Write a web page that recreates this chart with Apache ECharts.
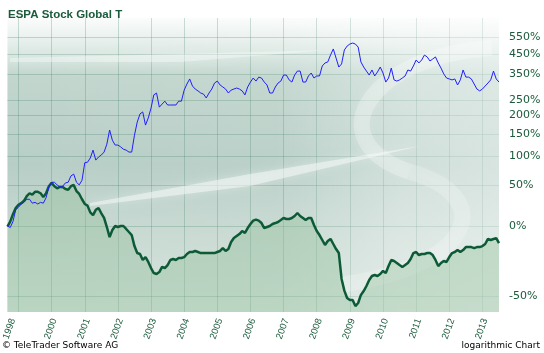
<!DOCTYPE html>
<html>
<head>
<meta charset="utf-8">
<script src="https://cdn.jsdelivr.net/npm/echarts@6/dist/echarts.min.js"></script>
<style>
  html, body { margin: 0; padding: 0; background: #fff; }
  #chart { width: 544px; height: 353px; }
</style>
</head>
<body>
<div id="chart"></div>
<script>
// monthly points, Sep 1998 .. Jul 2013
const firstMonth = [1998, 9]
const lastMonth = [2013, 7]
const months = []
for (let y = firstMonth[0], m = firstMonth[1]; y * 12 + m <= lastMonth[0] * 12 + lastMonth[1]; m++) {
  if (m > 12) { m = 1; y++ }
  months.push(y + "-" + String(m).padStart(2, "0"))
}

// blue line, change in % since start
const fundPct = [
  1, -1, 5, 18, 21, 25, 27, 31, 31, 26, 27, 25, 27, 26, 33, 48, 55, 55, 51, 48,
  49, 54, 55, 65, 68, 55, 51, 58, 88, 89, 97, 113, 93, 99, 103, 109, 126, 160, 135, 124,
  124, 120, 115, 113, 109, 109, 147, 181, 205, 211, 173, 193, 223, 268, 275, 226, 236, 246, 233, 233,
  233, 233, 246, 246, 286, 310, 331, 302, 290, 283, 275, 271, 257, 275, 290, 314, 322, 306, 298, 290,
  275, 286, 290, 294, 290, 283, 268, 298, 318, 335, 322, 339, 335, 318, 306, 275, 275, 298, 314, 322,
  348, 348, 327, 318, 348, 366, 366, 318, 318, 344, 357, 335, 344, 344, 390, 405, 410, 446, 480, 430,
  385, 400, 474, 497, 509, 515, 509, 491, 410, 385, 366, 348, 371, 344, 362, 385, 357, 318, 335, 380,
  327, 322, 327, 335, 344, 371, 366, 390, 420, 405, 420, 446, 436, 415, 425, 436, 405, 380, 353, 335,
  331, 327, 331, 306, 327, 371, 339, 339, 331, 310, 290, 283, 290, 302, 314, 327, 366, 331, 318
]

// green line, change in % since start
const comparePct = [
  0, 5, 13, 20, 24, 26, 29, 35, 39, 37, 41, 41, 39, 34, 39, 49, 54, 49, 46, 48,
  48, 45, 44, 49, 51, 42, 38, 31, 25, 23, 15, 12, 18, 20, 14, 9, -0.5, -9.9, -3.4, 0.5,
  -0.5, 0.5, 0.5, -2.4, -5.3, -8.1, -17.6, -23.1, -23.8, -28.2, -26.1, -29.6, -33.7, -36.9, -37.5, -36.3, -33, -33.7, -31.7, -28.2,
  -27.5, -28.2, -26.8, -26.8, -26.1, -23.8, -22.3, -22.3, -21.5, -22.3, -23.1, -23.1, -23.1, -23.1, -23.1, -23.1, -22.3, -21.5, -19.2, -21.5,
  -20, -14.2, -10.8, -9, -7.2, -4.4, -6.2, -1.5, 2.5, 6, 7, 6, 3.5, -1.5, -0.5, 0.5, 2.5, 3.5, 4.6, 6.6,
  8.8, 7.7, 7.7, 8.8, 11, 14.3, 11, 8.8, 6.6, 8.8, 8.8, 1.5, -4.4, -8.1, -12.5, -16.7, -13.4, -11.6, -15.9, -20,
  -23.1, -40.5, -47, -50.7, -51.7, -51.7, -54.5, -53.1, -49.2, -47.2, -44.5, -41.1, -38.7, -38.1, -38.7, -37.5, -35.6, -36.9, -32.4, -28.2,
  -28.9, -30.3, -31.7, -33, -31.7, -30.3, -27.5, -23.1, -22.3, -24.6, -23.8, -23.8, -23.1, -23.1, -24.6, -28.2, -32.4, -30.3, -28.9, -29.6,
  -26.1, -23.1, -22.3, -20.8, -22.3, -20.8, -18.4, -18.4, -18.4, -19.2, -18.4, -18.4, -17.6, -15.9, -11.6, -12.5, -11.6, -10.8, -15.1
]

// right axis tick labels, in %
const yTickPct = [-50, 0, 50, 100, 150, 200, 250, 350, 450, 550]
const yMinPct = -57.1
const yMaxPct = 688.1

const toFactor = p => 1 + p / 100
const green = "#1b5b3b"
const white = a => "rgba(255,255,255," + a + ")"

// soft white shape of the background artwork
const glow = (a) => ({ fill: white(a), shadowBlur: 10, shadowColor: white(a + 0.2) })
const glowLine = (a, w) => ({ stroke: white(a), lineWidth: w, fill: null, shadowBlur: 10, shadowColor: white(a + 0.2) })

const chart = echarts.init(document.getElementById("chart"))
chart.setOption({
  animation: false,
  backgroundColor: "#ffffff",
  title: {
    text: "ESPA Stock Global T",
    left: 3,
    top: 4,
    textStyle: { fontFamily: "Liberation Sans", fontWeight: "bold", fontSize: 11.5, color: green }
  },
  graphic: [
    // lighter right side of the plot
    {
      type: "rect", z: 1, silent: true,
      shape: { x: 4, y: 18, width: 495, height: 294 },
      style: {
        fill: {
          type: "linear", x: 0, y: 0, x2: 1, y2: 0,
          colorStops: [
            { offset: 0, color: white(0) },
            { offset: 0.55, color: white(0.05) },
            { offset: 0.8, color: white(0.35) },
            { offset: 1, color: white(0.45) }
          ]
        }
      }
    },
    // bright diagonal streak
    {
      type: "polygon", z: 1, silent: true,
      shape: { points: [[90, 203], [250, 174], [420, 146], [250, 186], [90, 206]] },
      style: glow(0.45)
    },
    // streak near the top
    {
      type: "polygon", z: 1, silent: true,
      shape: { points: [[10, 58], [180, 54], [330, 50], [180, 62], [10, 62]] },
      style: glow(0.35)
    },
    // swoosh of the logo
    {
      type: "bezierCurve", z: 1, silent: true,
      shape: { x1: 492, y1: 48, cpx1: 370, cpy1: 55, cpx2: 315, cpy2: 140, x2: 410, y2: 172 },
      style: glowLine(0.25, 16)
    },
    {
      type: "bezierCurve", z: 1, silent: true,
      shape: { x1: 410, y1: 172, cpx1: 495, cpy1: 195, cpx2: 480, cpy2: 265, x2: 340, y2: 285 },
      style: glowLine(0.2, 16)
    },
    {
      type: "text", left: 2, top: 341,
      style: { text: "\u00a9 TeleTrader Software AG", font: "9px 'DejaVu Sans'", fill: "#000" }
    },
    {
      type: "text", right: 4, top: 341,
      style: { text: "logarithmic Chart", font: "9px 'DejaVu Sans'", fill: "#000" }
    }
  ],
  grid: {
    left: 4,
    right: 45,
    top: 18,
    bottom: 41,
    show: true,
    borderWidth: 0,
    backgroundColor: {
      type: "linear", x: 0, y: 0, x2: 0, y2: 1,
      colorStops: [
        { offset: 0, color: "#fbfcfc" },
        { offset: 0.08, color: "#e6efeb" },
        { offset: 0.2, color: "#c2d6ce" },
        { offset: 0.5, color: "#b7cec6" },
        { offset: 0.75, color: "#c9dad3" },
        { offset: 1, color: "#d6e3de" }
      ]
    }
  },
  xAxis: {
    type: "category",
    data: months,
    boundaryGap: false,
    axisLine: { show: false },
    axisTick: { show: false },
    splitLine: {
      show: true,
      interval: (i, v) => v.endsWith("-01"),
      lineStyle: { color: "rgba(50,120,90,0.25)", width: 1 }
    },
    axisLabel: {
      // year labels sit just right of the January grid lines
      interval: (i, v) => i === 2 || (v.endsWith("-02") && v !== "1999-02"),
      formatter: v => v.slice(0, 4),
      rotate: 70,
      margin: 7,
      fontFamily: "Liberation Sans",
      fontSize: 9.5,
      color: green
    }
  },
  yAxis: {
    type: "log",
    logBase: 10,
    position: "right",
    min: toFactor(yMinPct),
    max: toFactor(yMaxPct),
    axisLine: { show: false },
    axisTick: { show: false, customValues: yTickPct.map(toFactor) },
    axisLabel: {
      customValues: yTickPct.map(toFactor),
      formatter: v => Math.round((v - 1) * 100) + "%",
      margin: 10,
      align: "left",
      fontFamily: "DejaVu Sans",
      fontSize: 11,
      color: green
    },
    splitLine: { show: true, lineStyle: { color: "rgba(50,120,90,0.25)", width: 1 } }
  },
  series: [
    {
      name: "compare",
      type: "line",
      data: comparePct.map(toFactor),
      symbol: "none",
      lineStyle: { color: "#0d5a37", width: 2.5 },
      areaStyle: { origin: "start", color: "rgba(143,190,150,0.55)" },
      z: 2
    },
    {
      name: "fund",
      type: "line",
      data: fundPct.map(toFactor),
      symbol: "none",
      lineStyle: { color: "#1f1fff", width: 1 },
      z: 3
    }
  ]
})
</script>
</body>
</html>
